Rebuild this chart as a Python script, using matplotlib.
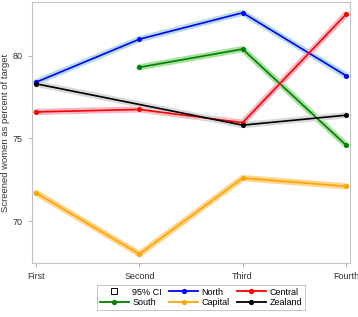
import numpy as np
import matplotlib
matplotlib.use('Agg')
import matplotlib.pyplot as plt
from matplotlib.lines import Line2D

plt.rcParams['font.family'] = ['Liberation Sans Narrow', 'Liberation Sans', 'DejaVu Sans']

rounds = ['First', 'Second', 'Third', 'Fourth']
north = [78.4, 81.0, 82.6, 78.8]
south = [np.nan, 79.3, 80.4, 74.6]
central = [76.6, 76.75, 75.95, 82.5]
capital = [71.7, 68.0, 72.6, 72.1]
zealand = [78.3, np.nan, 75.8, 76.4]

series = [
	('North', north, 'blue', '#b3dbe9'),
	('South', south, 'green', '#a8e0a0'),
	('Central', central, 'red', '#f7b8c4'),
	('Capital', capital, 'orange', '#ffd591'),
	('Zealand', zealand, 'black', '#d9d9d9'),
]

fig = plt.figure(figsize=(3.58, 3.17), dpi=100)
ax = fig.add_axes([32/358, 1-263/317, 318/358, 261/317])

x = np.arange(len(rounds))
# CI bands first, drawn as wide light lines
for name, vals, col, light in series:
	v = np.array(vals, dtype=float)
	m = ~np.isnan(v)
	ax.plot(x[m], v[m], color=light, lw=4.5, solid_capstyle='round', zorder=1)
for name, vals, col, light in series:
	v = np.array(vals, dtype=float)
	m = ~np.isnan(v)
	ax.plot(x[m], v[m], color=col, lw=1.2, marker='o', ms=2.6, zorder=3)

ax.set_xlim(-0.04, 3.04)
ax.set_ylim(67.46, 83.25)
ax.set_xticks(x)
ax.set_xticklabels(rounds)
ax.set_yticks([70, 75, 80])
for s in ax.spines.values():
	s.set_color('#c4c4c4')
ax.tick_params(colors='#aaaaaa', labelcolor='#333333', labelsize=6.5, length=3, width=0.6)
ax.set_ylabel('Screened women as percent of target', fontsize=6.8, color='#333333')
ax.yaxis.set_label_coords(-0.07, 0.5)

handles = [Line2D([], [], ls='none', marker='s', mfc='white', mec='black', ms=4, mew=0.7)]
labels = ['95% CI']
order = [('North', 'blue'), ('Central', 'red'), ('South', 'green'), ('Capital', 'orange'), ('Zealand', 'black')]
for name, col in order:
	handles.append(Line2D([], [], color=col, lw=1.3, marker='o', ms=2.8))
	labels.append(name)
# reorder so that rows read: CI, North, Central / South, Capital, Zealand
h = [handles[0], handles[3], handles[1], handles[4], handles[2], handles[5]]
l = [labels[0], labels[3], labels[1], labels[4], labels[2], labels[5]]
leg = fig.legend(h, l, ncol=3, loc='center', bbox_to_anchor=(201/358, 1-297.5/317),
	fontsize=6.5, frameon=True, fancybox=False, handlelength=3.2, handletextpad=0.4,
	columnspacing=0.8, borderpad=0.3, labelspacing=0.2)
leg.get_frame().set_edgecolor('#aaaaaa')
leg.get_frame().set_linewidth(0.6)

fig.savefig('out.png', dpi=100)
